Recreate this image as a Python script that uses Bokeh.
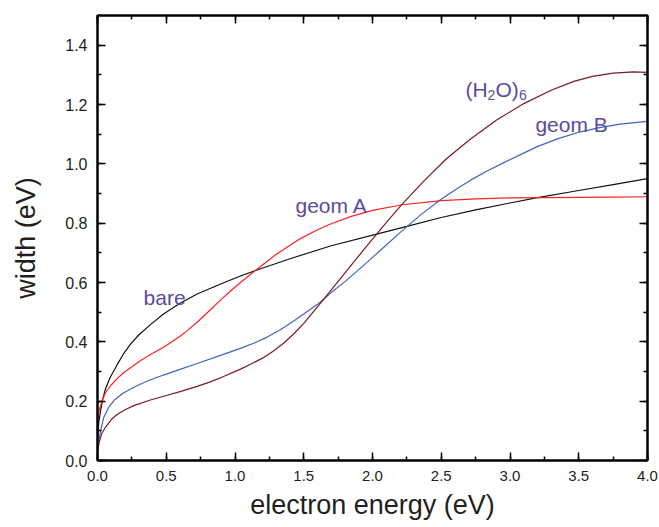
from bokeh.plotting import figure
from bokeh.models import (LinearAxis, SingleIntervalTicker, NumeralTickFormatter, Label, Range1d,
                          CustomLabelingPolicy)
from bokeh.embed import file_html
from bokeh.resources import INLINE

# ---- data ----
bare_x = [0, 0.005, 0.01, 0.022, 0.04, 0.058, 0.09, 0.143, 0.19, 0.24, 0.3, 0.385, 0.48, 0.6, 0.725,
          0.9, 1.04, 1.16, 1.4, 1.7, 2.03, 2.25, 2.5, 2.75, 3.0, 3.2, 3.5, 3.75, 4.0]
bare_y = [0.05, 0.10, 0.13, 0.168, 0.21, 0.241, 0.278, 0.323, 0.36, 0.392, 0.423, 0.458, 0.494, 0.53, 0.561,
          0.596, 0.622, 0.642, 0.68, 0.724, 0.763, 0.789, 0.819, 0.845, 0.868, 0.886, 0.91, 0.93, 0.95]

geomA_x = [0, 0.005, 0.012, 0.034, 0.06, 0.095, 0.14, 0.19, 0.24, 0.3, 0.385, 0.48, 0.55, 0.6, 0.65,
           0.725, 0.8, 0.9, 0.97, 1.04, 1.16, 1.3, 1.476, 1.6, 1.695, 1.84, 2.0, 2.216, 2.5, 2.75,
           3.0, 3.25, 3.5, 3.75, 4.0]
geomA_y = [0.13, 0.15, 0.17, 0.202, 0.23, 0.252, 0.275, 0.296, 0.313, 0.333, 0.357, 0.382, 0.403, 0.419, 0.437,
           0.466, 0.499, 0.543, 0.572, 0.60, 0.645, 0.695, 0.748, 0.778, 0.797, 0.822, 0.843, 0.862, 0.876, 0.882,
           0.885, 0.886, 0.887, 0.888, 0.889]

geomB_x = [0, 0.005, 0.01, 0.025, 0.046, 0.08, 0.119, 0.18, 0.24, 0.31, 0.385, 0.48, 0.6, 0.725, 0.9,
           1.04, 1.14, 1.234, 1.32, 1.4, 1.5, 1.61, 1.7, 1.8, 1.96, 2.08, 2.2, 2.35, 2.494, 2.6,
           2.713, 2.83, 2.955, 3.08, 3.198, 3.35, 3.513, 3.65, 3.8, 4.0]
geomB_y = [0.035, 0.05, 0.067, 0.105, 0.146, 0.178, 0.202, 0.225, 0.241, 0.257, 0.272, 0.288, 0.307, 0.327, 0.355,
           0.378, 0.396, 0.416, 0.438, 0.462, 0.494, 0.53, 0.566, 0.603, 0.668, 0.718, 0.768, 0.828, 0.879, 0.912,
           0.945, 0.975, 1.004, 1.032, 1.058, 1.085, 1.108, 1.122, 1.134, 1.143]

h2o_x = [0, 0.005, 0.012, 0.03, 0.058, 0.1, 0.143, 0.2, 0.264, 0.385, 0.5, 0.6, 0.725, 0.82, 0.9,
         1.04, 1.12, 1.2, 1.28, 1.355, 1.43, 1.5, 1.61, 1.7, 1.78, 1.86, 1.95, 2.03, 2.12, 2.216,
         2.38, 2.54, 2.713, 2.9, 3.1, 3.3, 3.464, 3.6, 3.75, 3.9, 4.0]
h2o_y = [0.03, 0.04, 0.06, 0.09, 0.112, 0.138, 0.155, 0.171, 0.185, 0.204, 0.219, 0.232, 0.25, 0.265, 0.28,
         0.308, 0.326, 0.345, 0.369, 0.396, 0.428, 0.462, 0.524, 0.575, 0.621, 0.667, 0.718, 0.763, 0.813, 0.864,
         0.945, 1.018, 1.084, 1.147, 1.203, 1.248, 1.278, 1.295, 1.306, 1.31, 1.308]

FONT = "Liberation Sans"
TEXT_COLOR = "#231f20"
LABEL_COLOR = "#5b4b9e"

p = figure(width=659, height=527, x_range=Range1d(0, 4), y_range=Range1d(0, 1.5),
           output_backend="svg", toolbar_location=None, x_axis_location=None, y_axis_location=None,
           min_border_left=97, min_border_right=12, min_border_top=15, min_border_bottom=67)
p.grid.visible = False
p.outline_line_color = "black"
p.outline_line_width = 2
p.background_fill_color = "white"
p.border_fill_color = "white"

hide_all = CustomLabelingPolicy(code="return new Set()")

def make_axis(interval, labels=True, size="15px"):
    ax = LinearAxis(ticker=SingleIntervalTicker(interval=interval, num_minor_ticks=2))
    ax.axis_line_color = "black"
    ax.axis_line_width = 2
    ax.major_tick_in = 8
    ax.major_tick_out = 0
    ax.minor_tick_in = 4
    ax.minor_tick_out = 0
    ax.major_tick_line_width = 1.5
    ax.minor_tick_line_width = 1.5
    ax.major_tick_line_color = "black"
    ax.minor_tick_line_color = "black"
    ax.formatter = NumeralTickFormatter(format="0.0")
    if labels:
        ax.major_label_text_font = FONT
        ax.major_label_text_font_size = size
        ax.major_label_text_color = TEXT_COLOR
        ax.axis_label_text_font = FONT
        ax.axis_label_text_font_size = "27px"
        ax.axis_label_text_font_style = "normal"
        ax.axis_label_text_color = TEXT_COLOR
    else:
        ax.major_label_policy = hide_all
        ax.major_label_text_font_size = "1px"
        ax.major_label_standoff = 0
        ax.axis_label = None
    return ax

xb = make_axis(0.5, size="15px")
xb.axis_label = "electron energy (eV)"
xb.major_label_standoff = 10
xb.axis_label_standoff = 6
p.add_layout(xb, "below")

yl = make_axis(0.2, size="16px")
yl.axis_label = "width (eV)"
yl.major_label_standoff = 10
yl.axis_label_standoff = 21
p.add_layout(yl, "left")

p.add_layout(make_axis(0.5, labels=False), "above")
p.add_layout(make_axis(0.2, labels=False), "right")

p.line(bare_x, bare_y, line_color="#111111", line_width=1.2)
p.line(geomA_x, geomA_y, line_color="#ff2020", line_width=1.2)
p.line(geomB_x, geomB_y, line_color="#4264bd", line_width=1.2)
p.line(h2o_x, h2o_y, line_color="#7a1a24", line_width=1.2)

def lab(x, y, text, size="21px", xo=0, yo=0):
    p.add_layout(Label(x=x, y=y, text=text, x_offset=xo, y_offset=yo,
                       text_font=FONT, text_font_size=size, text_color=LABEL_COLOR,
                       text_baseline="alphabetic", text_align="left"))

lab(0.335, 0.549, "bare")
lab(1.44, 0.858, "geom A")
lab(3.185, 1.134, "geom B")
# (H2O)6 with subscripts
hx, hy = 2.676, 1.252
lab(hx, hy, "(H")
lab(hx, hy, "2", size="14px", xo=22, yo=-6)
lab(hx, hy, "O)", xo=30)
lab(hx, hy, "6", size="14px", xo=53.5, yo=-6)

open("out.html", "w").write(file_html(p, INLINE))
